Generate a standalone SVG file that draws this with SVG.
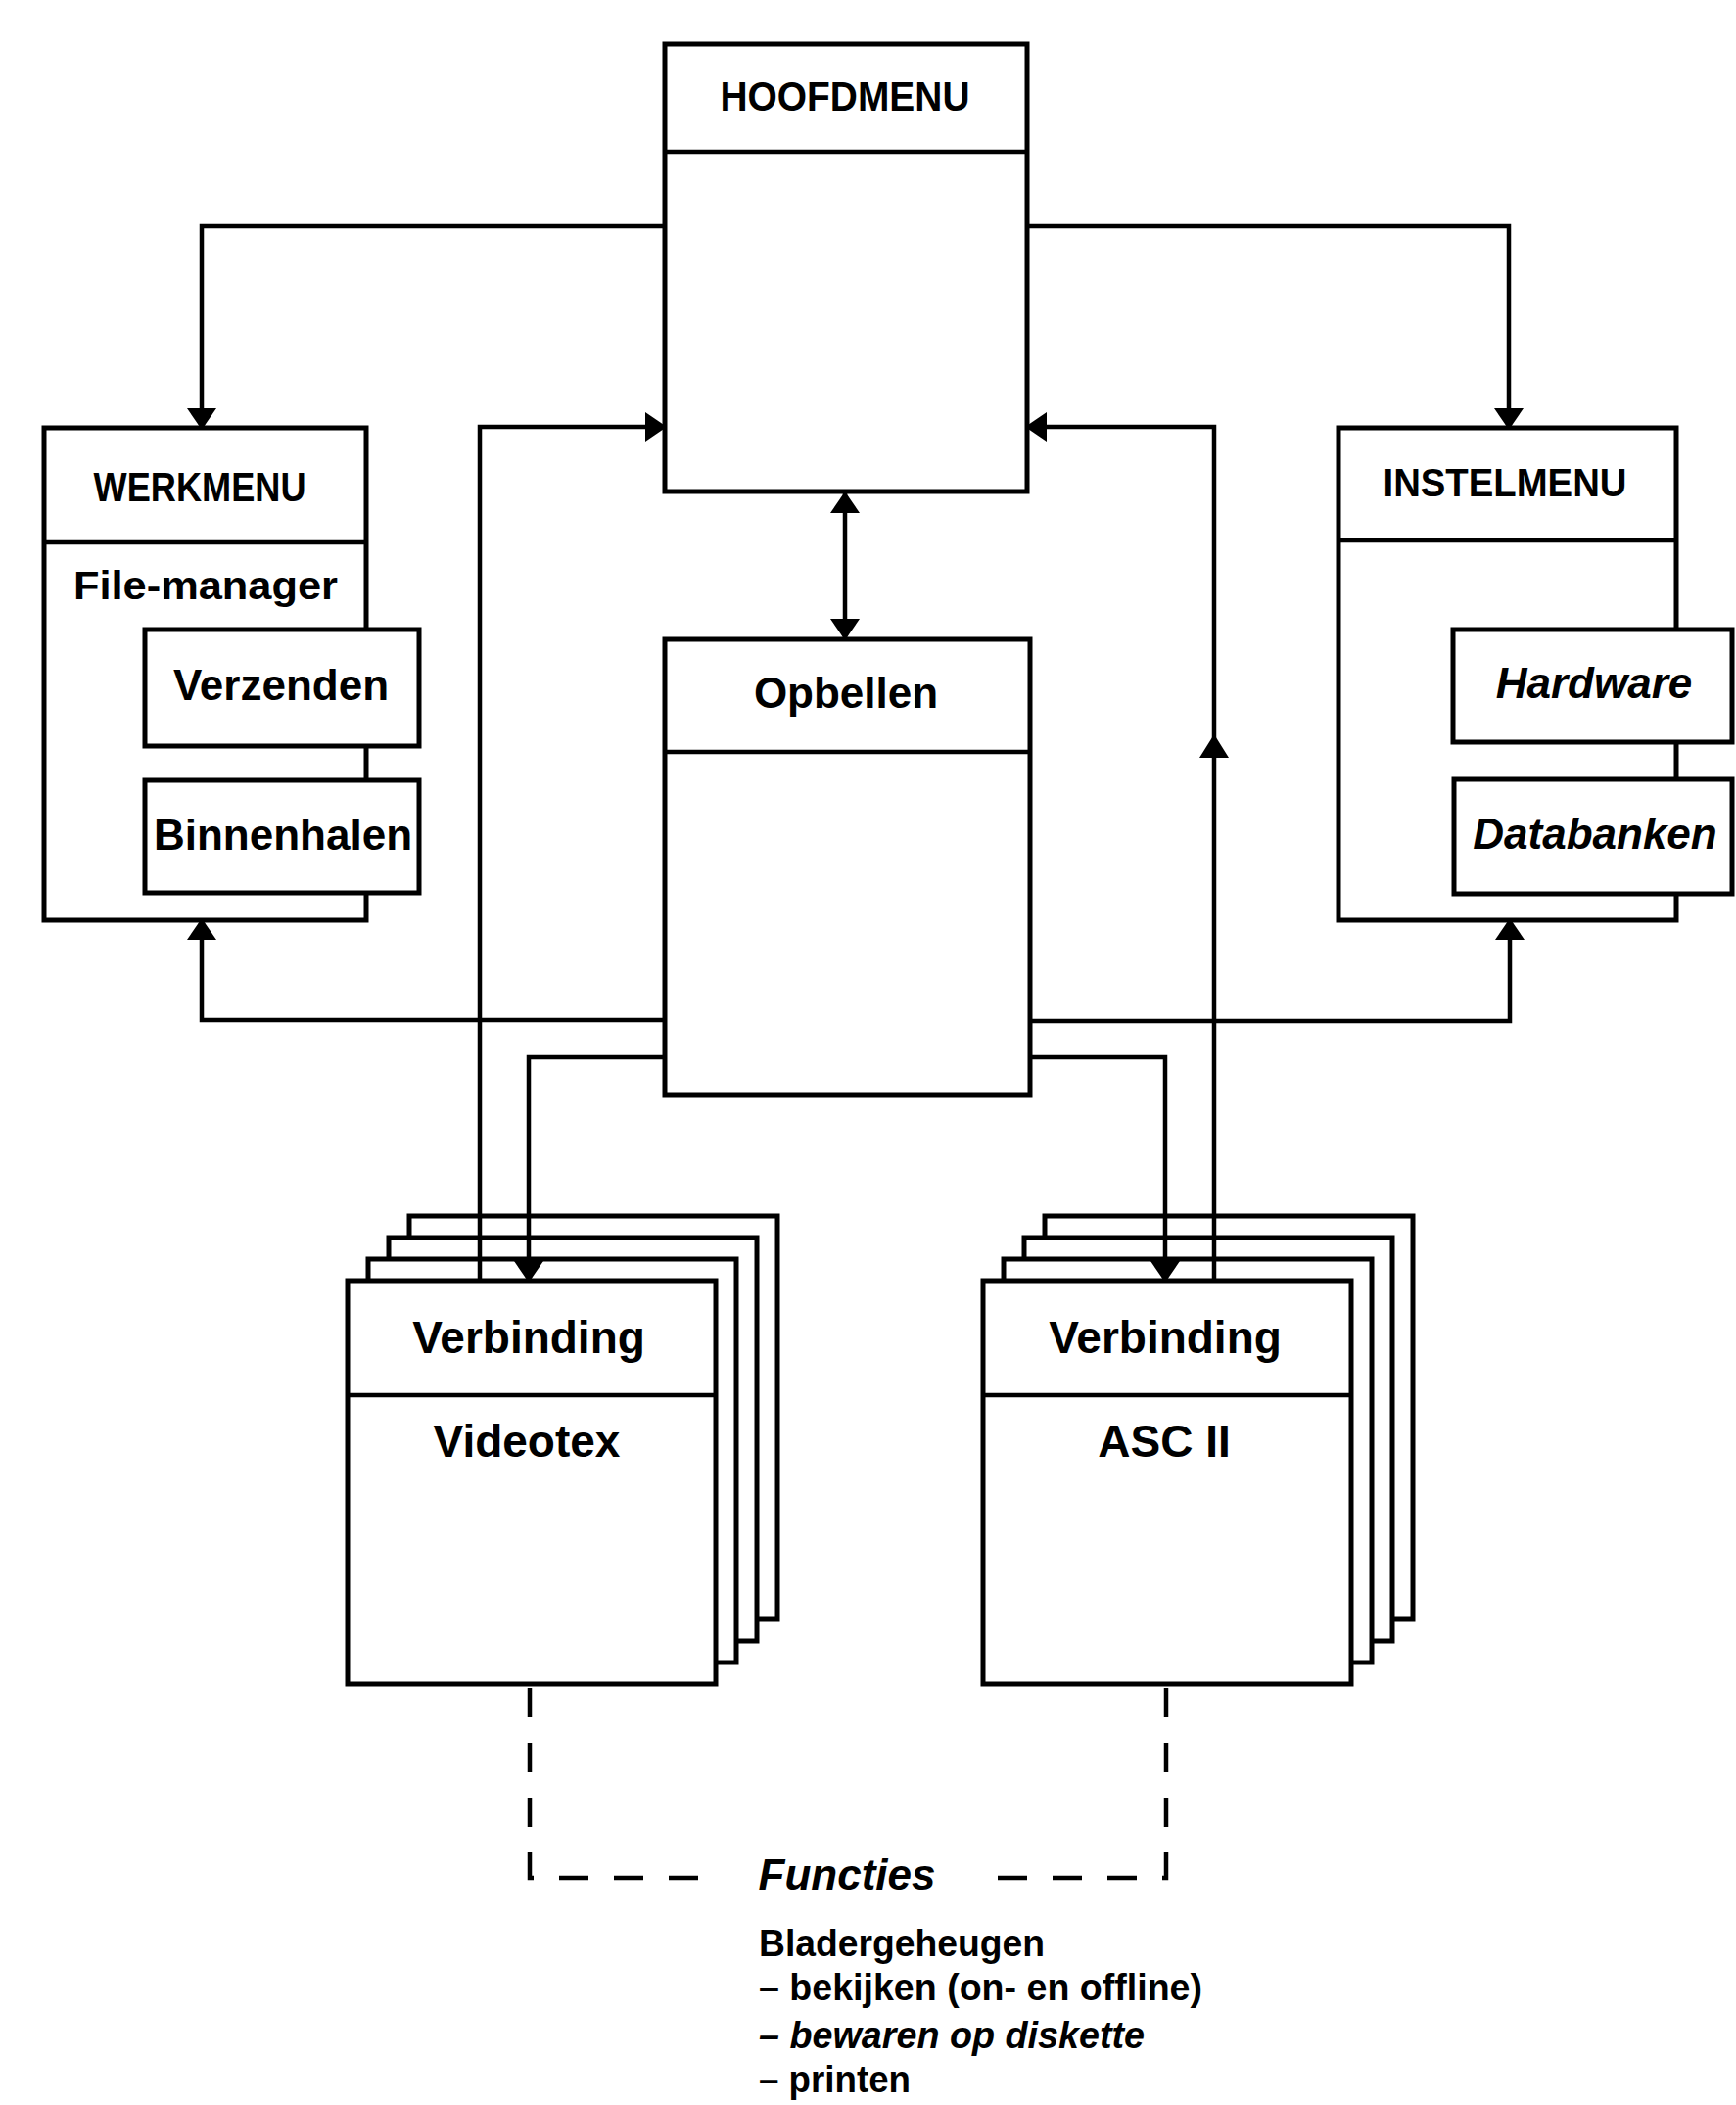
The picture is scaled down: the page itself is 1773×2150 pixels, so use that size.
<svg xmlns="http://www.w3.org/2000/svg" width="1773" height="2150" viewBox="0 0 1773 2150">
<style>
.box{fill:#fff;stroke:#000;stroke-width:5}
.ln{fill:none;stroke:#000;stroke-width:4.5}
.dash{fill:none;stroke:#000;stroke-width:4.5;stroke-dasharray:30 26}
.t{font-family:"Liberation Sans",Arial,sans-serif;font-weight:bold;fill:#000;text-anchor:middle}
.it{font-style:italic}
.l{font-family:"Liberation Sans",Arial,sans-serif;font-weight:bold;fill:#000;font-size:38px}
</style>
<defs>
<marker id="ah" markerUnits="userSpaceOnUse" markerWidth="24" markerHeight="32" refX="20" refY="15" orient="auto-start-reverse" viewBox="0 0 24 32">
<path d="M0,0 L22,15 L0,30 z" fill="#000"/>
</marker>
</defs>
<rect width="1773" height="2150" fill="#fff"/>

<g id="stack-videotex">
<rect class="box" x="418" y="1242" width="376" height="412"/>
<rect class="box" x="397" y="1264" width="376" height="412"/>
<rect class="box" x="376" y="1286" width="376" height="412"/>
</g>
<g id="stack-ascii">
<rect class="box" x="1067" y="1242" width="376" height="412"/>
<rect class="box" x="1046" y="1264" width="376" height="412"/>
<rect class="box" x="1025" y="1286" width="376" height="412"/>
</g>

<g id="connectors">
<path class="ln" d="M679,231 H206 V437" marker-end="url(#ah)"/>
<path class="ln" d="M1049,231 H1541 V437" marker-end="url(#ah)"/>
<path class="ln" d="M490,1308 V436 H679" marker-end="url(#ah)"/>
<path class="ln" d="M1240,1308 V436 H1049" marker-end="url(#ah)"/>
<polygon points="1240,750 1255,774 1225,774" fill="#000"/>
<path class="ln" d="M863,504 V652" marker-start="url(#ah)" marker-end="url(#ah)"/>
<path class="ln" d="M679,1042 H206 V940" marker-end="url(#ah)"/>
<path class="ln" d="M1052,1043 H1542 V940" marker-end="url(#ah)"/>
<path class="ln" d="M679,1080 H540 V1308" marker-end="url(#ah)"/>
<path class="ln" d="M1052,1080 H1190 V1308" marker-end="url(#ah)"/>
<path class="dash" d="M541,1724 V1918 H728"/>
<path class="dash" d="M1191,1724 V1918 H1004"/>
</g>

<g id="hoofdmenu">
<rect class="box" x="679" y="45" width="370" height="457"/>
<line class="ln" x1="679" y1="155" x2="1049" y2="155"/>
<text class="t" x="863" y="113" font-size="42" textLength="255" lengthAdjust="spacingAndGlyphs">HOOFDMENU</text>
</g>

<g id="werkmenu">
<rect class="box" x="45" y="437" width="329" height="503"/>
<line class="ln" x1="45" y1="554" x2="374" y2="554"/>
<text class="t" x="204" y="512" font-size="43" textLength="217" lengthAdjust="spacingAndGlyphs">WERKMENU</text>
<text class="t" x="210" y="612" font-size="40" textLength="270" lengthAdjust="spacingAndGlyphs">File-manager</text>
</g>
<g id="verzenden">
<rect class="box" x="148" y="643" width="280" height="119"/>
<text class="t" x="287" y="715" font-size="44">Verzenden</text>
</g>
<g id="binnenhalen">
<rect class="box" x="148" y="797" width="280" height="115"/>
<text class="t" x="289" y="868" font-size="44">Binnenhalen</text>
</g>

<g id="instelmenu">
<rect class="box" x="1367" y="437" width="345" height="503"/>
<line class="ln" x1="1367" y1="552" x2="1712" y2="552"/>
<text class="t" x="1537" y="507" font-size="41" textLength="249" lengthAdjust="spacingAndGlyphs">INSTELMENU</text>
</g>
<g id="hardware">
<rect class="box" x="1484" y="643" width="285" height="115"/>
<text class="t it" x="1628" y="713" font-size="44">Hardware</text>
</g>
<g id="databanken">
<rect class="box" x="1485" y="796" width="284" height="117"/>
<text class="t it" x="1629" y="867" font-size="44">Databanken</text>
</g>

<g id="opbellen">
<rect class="box" x="679" y="653" width="373" height="465"/>
<line class="ln" x1="679" y1="768" x2="1052" y2="768"/>
<text class="t" x="864" y="723" font-size="44">Opbellen</text>
</g>

<g id="verbinding-videotex">
<rect class="box" x="355" y="1308" width="376" height="412"/>
<line class="ln" x1="355" y1="1425" x2="731" y2="1425"/>
<text class="t" x="540" y="1382" font-size="46">Verbinding</text>
<text class="t" x="538" y="1488" font-size="46">Videotex</text>
</g>

<g id="verbinding-ascii">
<rect class="box" x="1004" y="1308" width="376" height="412"/>
<line class="ln" x1="1004" y1="1425" x2="1380" y2="1425"/>
<text class="t" x="1190" y="1382" font-size="46">Verbinding</text>
<text class="t" x="1189" y="1488" font-size="46">ASC II</text>
</g>

<g id="functies">
<text class="t it" x="865" y="1930" font-size="44">Functies</text>
<text class="l" x="775" y="1998" textLength="292" lengthAdjust="spacingAndGlyphs">Bladergeheugen</text>
<text class="l" x="775" y="2043" textLength="453" lengthAdjust="spacingAndGlyphs">– bekijken (on- en offline)</text>
<text class="l it" x="775" y="2092" textLength="394" lengthAdjust="spacingAndGlyphs">– bewaren op diskette</text>
<text class="l" x="775" y="2137" textLength="155" lengthAdjust="spacingAndGlyphs">– printen</text>
</g>
</svg>
